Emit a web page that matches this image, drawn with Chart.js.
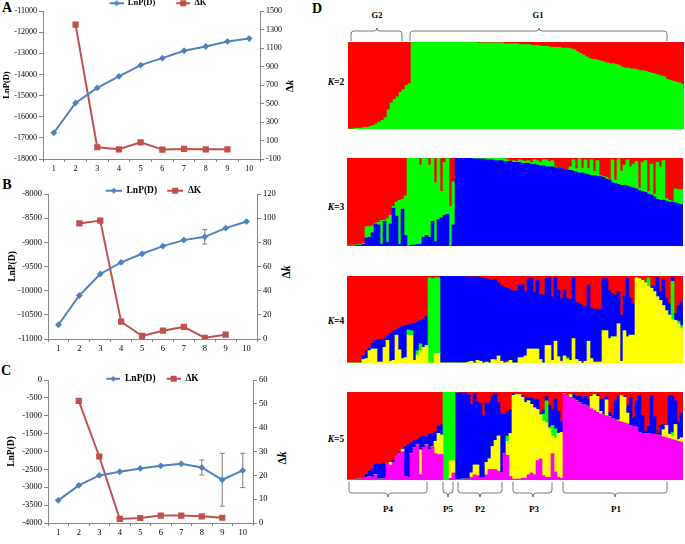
<!DOCTYPE html>
<html><head><meta charset="utf-8">
<script src="https://cdn.jsdelivr.net/npm/chart.js@4"></script>
<style>
html,body{margin:0;padding:0;background:#fff;overflow:hidden;width:685px;height:544px}
canvas{position:absolute;display:block}
.t{position:absolute;font-family:"Liberation Serif",serif;font-weight:bold;color:#000;transform:translate(-50%,-50%);white-space:nowrap;line-height:1}
.r{transform:translate(-50%,-50%) rotate(-90deg)}
svg{position:absolute;left:0;top:0}
</style></head><body>
<svg width="685" height="544" fill="none" stroke="#555" stroke-width="0.8">
<path d="M351 41V34Q351 31 354 31H374Q377 31 377 28Q377 31 380 31H399Q402 31 402 34V41"/>
<path d="M410 41V34Q410 31 413 31H536Q539 31 539 28Q539 31 542 31H664Q667 31 667 34V41"/>
<path d="M349 482V490Q349 493 352 493H385Q388 493 388 497Q388 493 391 493H424Q427 493 427 490V482"/>
<path d="M443 482V490Q443 493 445 493H446Q448 493 448 497Q448 493 450 493H451Q453 493 453 490V482"/>
<path d="M458 482V490Q458 493 461 493H477Q480 493 480 497Q480 493 483 493H499Q502 493 502 490V482"/>
<path d="M513 482V490Q513 493 516 493H530Q533 493 533 497Q533 493 536 493H549Q552 493 552 490V482"/>
<path d="M563 482V490Q563 493 566 493H612Q615 493 615 497Q615 493 618 493H664Q667 493 667 490V482"/>
</svg>
<div class="t" style="left:7px;top:8px;font-size:14px">A</div>
<div class="t" style="left:7px;top:185px;font-size:14px">B</div>
<div class="t" style="left:6px;top:371px;font-size:14px">C</div>
<div class="t" style="left:317px;top:9px;font-size:14px">D</div>
<div class="t r" style="left:289px;top:86px;font-size:11px">Δ<i>k</i></div>
<div class="t r" style="left:287px;top:272px;font-size:11.5px">Δ<i>k</i></div>
<div class="t r" style="left:283px;top:458px;font-size:11.5px">Δ<i>k</i></div>
<div class="t" style="left:377px;top:15px;font-size:8.5px">G2</div>
<div class="t" style="left:538px;top:15px;font-size:8.5px">G1</div>
<div class="t" style="left:336px;top:83px;font-size:9.5px"><i>K</i>=2</div>
<div class="t" style="left:336px;top:208px;font-size:9.5px"><i>K</i>=3</div>
<div class="t" style="left:336px;top:322px;font-size:9.5px"><i>K</i>=4</div>
<div class="t" style="left:336px;top:440px;font-size:9.5px"><i>K</i>=5</div>
<div class="t" style="left:388px;top:509px;font-size:9px">P4</div>
<div class="t" style="left:448px;top:509px;font-size:9px">P5</div>
<div class="t" style="left:480px;top:509px;font-size:9px">P2</div>
<div class="t" style="left:534px;top:509px;font-size:9px">P3</div>
<div class="t" style="left:616px;top:509px;font-size:9px">P1</div>
<script>
const categories = ['1','2','3','4','5','6','7','8','9','10'];
const lnA = [-16760,-15350,-14640,-14090,-13560,-13230,-12880,-12680,-12440,-12300];
const dkA = [null,1353,27,5,80,2,9,5,5,null];
const errA = [0,0,0,0,0,0,0,0,0,0];
const lnB = [-10705,-10100,-9655,-9414,-9236,-9078,-8954,-8886,-8707,-8570];
const dkB = [null,95.6,98,14.3,2.5,6.9,10,1,3.6,null];
const errB = [0,0,0,0,0,0,0,150,0,0];
const lnC = [-3367,-2949,-2670,-2567,-2474,-2400,-2344,-2447,-2791,-2530];
const dkC = [null,51.2,27.9,1.7,2.1,3.1,3.1,2.8,2.2,null];
const errC = [0,0,0,0,0,0,0,210,740,480];

const k2Green = [0,0,1,1,1,2,2,3,4,6,8,10,13,22,30,34,37,42,45,50,
52,100,100,100,100,100,100,100,100,100,100,100,100,100,100,100,100,100,100,100,
100,100,100,99,99,99,99,99,99,99,99,99,98,98,
98,98,98,97,97,97,97,96,96,96,95,95,95,94,94,94,94,93,93,93,92,
91,89,87,85,83,81,80,80,79,78,77,76,75,75,74,73,71,
70,70,69,69,68,67,67,66,65,64,63,62,61,60,57,56,55,54,53,51];
const k2Red = [100,100,99,99,99,98,98,97,96,94,92,90,87,78,70,66,63,58,55,50,
48,0,0,0,0,0,0,0,0,0,0,0,0,0,0,0,0,0,0,0,
0,0,0,1,1,1,1,1,1,1,1,1,2,2,
2,2,2,3,3,3,3,4,4,4,5,5,5,6,6,6,6,7,7,7,8,
9,11,13,15,17,19,20,20,21,22,23,24,25,25,26,27,29,
30,30,31,31,32,33,33,34,35,36,37,38,39,40,43,44,45,46,47,49];

const k3Blue = [0,0,0,1,1,2,9,10,15,25,
24,2,28,4,25,43,34,2,42,12,
0,1,1,2,2,10,12,10,28,5,
30,32,35,36,0,24,
100,100,100,100,100,100,99,99,99,99,98,98,98,97,97,97,96,
96,96,95,95,95,94,94,94,93,93,92,91,91,90,90,90,
89,88,88,87,86,86,85,84,83,83,82,81,80,80,79,79,78,76,75,72,71,70,69,69,68,67,66,65,63,62,61,59,58,56,53,52,52,51,50,50,49,48,47];
const k3Green = [1,1,1,1,1,1,13,12,8,1,
3,27,1,27,10,2,16,50,11,45,
100,99,99,98,90,90,88,82,72,67,
70,30,60,64,45,49,
0,0,0,0,0,0,1,1,1,1,2,2,2,3,3,3,4,
2,0,2,1,3,3,2,3,2,5,5,4,7,8,6,7,
1,0,0,0,0,4,13,4,16,5,16,7,18,5,18,1,1,2,1,26,4,29,16,23,30,23,27,31,3,33,36,3,35,3,42,38,45,3,2,1,16,16,17];
const k3Red = [99,99,99,98,98,97,78,78,77,74,
73,71,71,69,65,55,50,48,47,43,
0,0,0,0,8,0,0,8,0,28,
0,38,5,0,55,27,
0,0,0,0,0,0,0,0,0,0,0,0,0,0,0,0,0,
2,4,3,4,2,3,4,3,5,2,3,5,2,2,4,3,
10,12,12,13,14,10,2,12,1,12,2,12,2,15,3,20,21,22,24,2,25,1,15,8,2,10,7,4,34,5,3,38,7,41,5,10,3,46,48,49,35,36,36];

const k4Yellow = [0,0,0,0,0,4,5,14,16,16,
1,1,18,26,2,3,32,15,5,6,
32,32,3,9,14,18,20,0,0,11,
11,0,0,0,0,0,0,0,0,0,
1,2,0,3,2,0,1,0,4,3,
8,2,0,1,3,0,0,6,6,8,
16,16,16,16,4,0,20,20,3,25,
7,2,8,4,3,28,4,2,0,2,
25,5,1,1,1,37,37,28,30,30,
45,2,37,30,32,32,
98,97,95,92,88,86,82,76,72,66,60,55,50,49,45,40];
const k4Green = [0,0,0,0,0,0,0,0,0,0,
0,0,0,0,0,0,0,0,0,0,
6,5,0,5,8,0,0,98,97,87,
87,0,0,0,0,0,0,0,0,0,
0,0,0,0,0,0,0,0,0,1,
0,0,0,0,0,0,0,0,0,0,
0,0,0,0,0,0,0,0,0,0,
0,0,0,2,0,0,0,0,0,0,
0,0,0,0,0,0,0,0,0,0,
0,0,0,0,0,0,
0,0,0,1,10,0,0,0,0,0,0,0,44,0,3,3];
const k4Blue = [0,0,0,0,1,4,9,3,7,10,
26,26,10,5,32,34,6,25,37,37,
6,8,43,33,27,32,34,0,0,0,
0,100,100,100,100,100,100,100,100,100,
98,97,99,96,96,97,96,96,91,92,
84,87,87,85,81,83,83,84,84,74,
81,81,65,79,75,78,77,78,73,73,
77,72,76,68,70,70,66,66,66,63,
65,58,61,61,60,60,60,55,50,48,
37,53,40,67,43,36,
0,0,0,0,0,2,6,22,10,30,15,13,5,8,18,27];
const k4Red = [100,100,100,100,99,92,86,83,77,74,
73,73,72,69,66,63,62,60,58,57,
56,55,54,53,51,50,46,2,3,2,
2,0,0,0,0,0,0,0,0,0,
1,1,1,1,2,3,3,4,5,4,
8,11,13,14,16,17,17,10,10,18,
3,3,19,5,21,22,3,2,24,2,
16,26,16,26,27,2,30,32,34,35,
10,37,38,38,39,3,3,17,20,22,
18,45,23,3,25,32,
2,3,5,7,2,12,12,2,18,4,25,32,1,43,34,30];

const k5Magenta = [0,0,0,1,1,2,3,4,3,6,
1,1,2,19,17,20,27,30,32,4,
3,30,37,40,6,37,40,34,38,30,
29,29,0,0,2,8,0,0,1,1,
1,3,6,5,2,3,6,12,12,12,
10,8,30,28,4,1,1,1,2,2,
6,8,6,22,24,5,3,3,30,9,
3,2,98,96,94,92,90,88,86,85,
83,81,79,77,75,74,73,72,70,68,
67,66,65,64,62,61,60,54,53,53,
53,52,52,51,50,49,48,47,46,45,44,43];
const k5Yellow = [0,0,0,0,0,0,0,0,0,0,
0,0,0,0,3,0,0,0,3,0,
0,0,0,0,28,0,0,0,0,14,
24,22,0,0,20,14,0,0,0,0,
0,5,11,12,0,0,14,12,26,33,
40,0,0,16,49,95,96,96,92,86,
84,78,76,58,50,62,62,55,20,39,
50,52,0,0,3,0,0,0,0,0,
0,14,18,18,3,0,18,0,0,0,
1,30,29,12,0,0,0,0,0,0,
0,0,0,0,0,8,14,5,4,18,2,5];
const k5Green = [0,0,0,0,0,0,0,0,0,0,
0,0,0,0,0,0,0,0,0,0,
0,0,0,0,0,0,0,0,0,0,
0,0,100,100,78,78,0,0,0,0,
0,0,0,0,0,0,0,0,0,0,
0,0,0,6,0,0,0,0,0,0,
0,0,0,0,0,8,25,2,12,10,
0,0,0,0,0,0,0,0,0,0,
0,0,0,0,0,0,0,0,0,0,
0,0,0,0,0,0,0,0,0,0,
0,0,0,0,0,0,0,0,4,0,0,0];
const k5Blue = [0,0,1,0,0,1,3,6,10,12,
17,17,17,0,0,3,0,1,0,34,
37,12,8,6,14,13,9,18,15,11,
8,12,0,0,0,0,98,99,98,98,
96,78,81,72,85,70,68,64,58,53,
38,67,45,28,27,2,0,0,2,6,
3,7,9,12,2,5,5,25,18,34,
25,12,0,0,0,5,5,7,7,10,
9,1,0,2,14,18,4,5,3,22,
28,0,2,8,32,10,30,42,20,2,
8,44,20,2,12,6,0,44,42,27,20,28];
const k5Red = [100,100,99,99,99,97,94,90,87,82,
82,82,81,81,80,77,73,69,65,62,
60,58,55,54,52,50,51,48,47,45,
39,37,0,0,0,0,2,1,1,1,
3,14,2,11,13,27,12,12,4,2,
12,25,25,22,20,2,3,3,4,6,
7,7,9,8,24,20,5,15,20,8,
22,34,2,4,3,3,5,5,7,5,
8,4,3,3,8,8,5,23,27,10,
4,4,4,16,6,29,10,4,27,45,
39,4,28,47,38,37,38,4,4,10,34,24];

const RED='#ff0000',GREEN='#00ff00',BLUE='#0000ff',YELLOW='#ffff00',MAGENTA='#ff00ff';
const SERIF='"Liberation Serif", serif';
const GRAY='#868686';
const LBLUE='#4F81BD',LRED='#C0504D';
Chart.defaults.animation=false;
Chart.defaults.responsive=false;
Chart.defaults.font.family=SERIF;

function addCanvas(l,t,w,h){const c=document.createElement('canvas');c.width=w;c.height=h;c.style.left=l+'px';c.style.top=t+'px';c.style.width=w+'px';c.style.height=h+'px';document.body.appendChild(c);return c;}

function symbol(kind,color,blank,len){const c=document.createElement('canvas');c.width=blank+len;c.height=10;const g=c.getContext('2d');
 const m=blank+len/2;
 g.strokeStyle=color;g.lineWidth=2;g.beginPath();g.moveTo(blank,5);g.lineTo(blank+len,5);g.stroke();g.fillStyle=color;
 if(kind==='d'){g.beginPath();g.moveTo(m,2);g.lineTo(m+3,5);g.lineTo(m,8);g.lineTo(m-3,5);g.closePath();g.fill();}
 else g.fillRect(m-3,2,6,6);
 return c;}

const errorBars={id:'errorBars',beforeDatasetsDraw(ch,a,o){const g=ch.ctx,s=ch.scales.y,x=ch.scales.x;g.save();g.strokeStyle='#7f7f7f';g.lineWidth=o.width||1;
 ch.data.datasets[0].data.forEach((v,i)=>{const e=o.err[i];if(!e)return;const px=x.getPixelForValue(i),a1=s.getPixelForValue(v+e),b1=s.getPixelForValue(v-e);
 g.beginPath();g.moveTo(px,a1);g.lineTo(px,b1);g.moveTo(px-2.5,a1);g.lineTo(px+2.5,a1);g.moveTo(px-2.5,b1);g.lineTo(px+2.5,b1);g.stroke();});g.restore();}};
const legendMove={id:'legendMove',afterLayout(ch,a,o){const l=ch.legend;const h=l.bottom-l.top;l.top=o.y;l.bottom=o.y+h;l.left=o.shift;l.right=ch.width+o.shift;if(l.adjustHitBoxes)l.adjustHitBoxes();}};

function lineChart(c){
 const canvas=addCanvas(0,c.canvasTop,310,c.canvasH);
 const symbols=[symbol('d',LBLUE,c.blank,c.lineLen),symbol('s',LRED,c.blank,c.lineLen)];
 const axis=(pos,min,max,step,w,title)=>({type:'linear',position:pos,min,max,
  afterFit(s){s.width=w;},
  border:{color:GRAY,width:1},
  grid:{drawOnChartArea:false,color:GRAY,tickColor:GRAY,tickLength:4,tickWidth:1},
  ticks:{stepSize:step,autoSkip:false,padding:2,color:'#000',font:{size:c.tick,family:SERIF},callback:v=>String(v)},
  title:title?{display:true,text:title,color:'#000',padding:{top:c.titlePad,bottom:0},font:{size:c.title,weight:'bold',family:SERIF}}:{display:false}});
 new Chart(canvas,{type:'line',plugins:[errorBars,legendMove],
  data:{labels:categories,datasets:[
   {label:'LnP(D)',data:c.ln,yAxisID:'y',borderColor:LBLUE,backgroundColor:LBLUE,borderWidth:2,pointStyle:'rectRot',pointRadius:3.4,pointBorderWidth:0,tension:0,order:1},
   {label:'ΔK',data:c.dk,yAxisID:'y1',borderColor:LRED,backgroundColor:LRED,borderWidth:2,pointStyle:'rect',pointRadius:4.4,pointBorderWidth:0,tension:0,order:2}]},
  options:{layout:{padding:{top:c.padTop,left:0,right:0,bottom:0}},
   plugins:{errorBars:{err:c.err},legendMove:{y:c.legendY,shift:c.shift},tooltip:{enabled:false},
    legend:{position:'top',labels:{usePointStyle:true,pointStyleWidth:c.blank+c.lineLen,padding:2,color:'#000',font:{size:c.legend,weight:'bold',family:SERIF},
     generateLabels(ch){const it=Chart.defaults.plugins.legend.labels.generateLabels(ch);it.forEach((x,i)=>{x.pointStyle=symbols[i];});return it;}}}},
   scales:{
    x:{type:'category',offset:true,afterFit(s){s.height=16;},border:{color:GRAY,width:1},
     grid:{drawOnChartArea:false,offset:true,color:GRAY,tickColor:GRAY,tickLength:3},
     ticks:{padding:2,autoSkip:false,maxRotation:0,color:'#000',font:{size:c.tick,family:SERIF}}},
    y:axis('left',c.yMin,c.yMax,c.yStep,c.leftW,'LnP(D)'),
    y1:axis('right',c.rMin,c.rMax,c.rStep,c.rightW,null)}}});
}

lineChart({canvasTop:-10,canvasH:185,padTop:0.5,ln:lnA,dk:dkA,err:errA,yMin:-18000,yMax:-11000,yStep:1000,rMin:-100,rMax:1500,rStep:200,leftW:43,rightW:50,tick:8,title:8.5,titlePad:2,legend:8.5,legendY:7,shift:-6.5,blank:19,lineLen:14});
lineChart({canvasTop:172,canvasH:183,padTop:0.5,ln:lnB,dk:dkB,err:errB,yMin:-11000,yMax:-8000,yStep:500,rMin:0,rMax:120,rStep:20,leftW:48,rightW:53,tick:8.5,title:9.5,titlePad:7,legend:9.5,legendY:12,shift:-5.5,blank:8,lineLen:16});
lineChart({canvasTop:358,canvasH:181,padTop:0.5,ln:lnC,dk:dkC,err:errC,yMin:-4000,yMax:0,yStep:500,rMin:0,rMax:60,rStep:10,leftW:48,rightW:57,tick:8.5,title:9.5,titlePad:6,legend:9.5,legendY:14,shift:-7,blank:9,lineLen:14});

function barChart(l,t,h,series){
 const canvas=addCanvas(l,t,336,h);
 const labels=series[0][0].map((_,i)=>String(i+1));
 new Chart(canvas,{type:'bar',
  data:{labels,datasets:series.map(([data,color])=>({data,backgroundColor:color,borderWidth:0,barPercentage:1,categoryPercentage:1,stack:'s'}))},
  options:{layout:{padding:0},plugins:{legend:{display:false},tooltip:{enabled:false}},
   scales:{x:{display:false,stacked:true,offset:true},y:{display:false,stacked:true,min:0,max:100}}}});
}
barChart(348,42,87,[[k2Green,GREEN],[k2Red,RED]]);
barChart(347,158,88,[[k3Blue,BLUE],[k3Green,GREEN],[k3Red,RED]]);
barChart(347,276,87,[[k4Yellow,YELLOW],[k4Green,GREEN],[k4Blue,BLUE],[k4Red,RED]]);
barChart(347,392,88,[[k5Magenta,MAGENTA],[k5Yellow,YELLOW],[k5Green,GREEN],[k5Blue,BLUE],[k5Red,RED]]);
</script>
</body></html>
